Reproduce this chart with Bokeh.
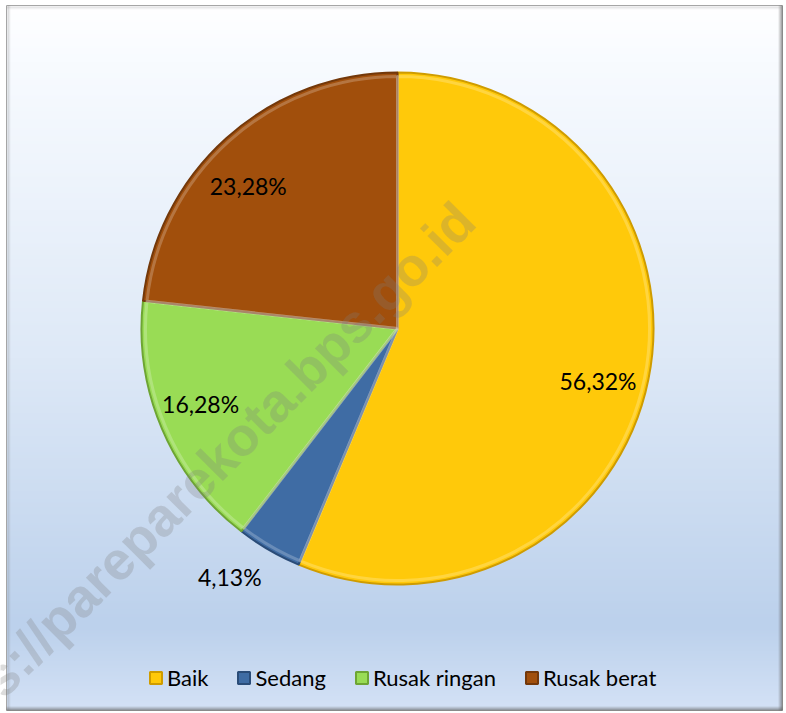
import numpy as np
from bokeh.plotting import figure
from bokeh.models import ColumnDataSource, Legend, LegendItem, Range1d
from bokeh.core.properties import value
from bokeh.embed import file_html
from bokeh.resources import INLINE

# ---- data ----
categories = ["Baik", "Sedang", "Rusak ringan", "Rusak berat"]
shares = [56.32, 4.13, 16.28, 23.28]
label_texts = ["56,32%", "4,13%", "16,28%", "23,28%"]
watermark = "https://pareparekota.bps.go.id"

# ---- style ----
colors = ["#FFC90A", "#3F6CA4", "#99DC55", "#A14F0C"]
edge_colors = ["#CF9C00", "#2A4C78", "#6EA534", "#73380A"]
label_r = [0.81, 1.17, 0.824, 0.805]
label_da = [-3.4, -3.9, -2.1, 4.5]

W, H = 786, 713
CX, CY, R = 397, 385, 256

frac = np.array(shares) / np.sum(shares)
ang = frac * 2 * np.pi
start = np.pi / 2 - np.concatenate([[0.0], np.cumsum(ang)[:-1]])
end = start - ang
mid = (start + end) / 2 + np.radians(label_da)
lx = CX + np.array(label_r) * R * np.cos(mid)
ly = CY + np.array(label_r) * R * np.sin(mid)

src = ColumnDataSource(dict(cat=categories, start=start, end=end,
                            color=colors, edge=edge_colors))
lsrc = ColumnDataSource(dict(x=lx, y=ly, text=label_texts))

p = figure(width=W, height=H, x_range=Range1d(0, W), y_range=Range1d(0, H),
           x_axis_type=None, y_axis_type=None, toolbar_location=None,
           output_backend="svg", min_border=0)
p.grid.visible = False
p.outline_line_color = None
p.background_fill_color = "#ffffff"
p.border_fill_color = "#ffffff"

# background gradient (top white -> light blue), frame area
FX0, FX1, FY0, FY1 = 6, 782, 5, 710   # frame in page px (y from top)
ys = np.linspace(0, 1, FY1 - FY0)  # 0 = top
stops = [0.0, 0.08, 0.5, 0.88, 1.0]
rr = [255, 248, 222, 188, 212]
gg = [255, 251, 233, 209, 226]
bb = [255, 255, 247, 236, 246]
img = np.empty((FY1 - FY0, 1), dtype=np.uint32)
view = img.view(dtype=np.uint8).reshape((FY1 - FY0, 1, 4))
view[:, 0, 0] = np.interp(ys, stops, rr)[::-1]
view[:, 0, 1] = np.interp(ys, stops, gg)[::-1]
view[:, 0, 2] = np.interp(ys, stops, bb)[::-1]
view[:, 0, 3] = 255
p.image_rgba(image=[img], x=FX0, y=H - FY1, dw=FX1 - FX0, dh=FY1 - FY0)

# frame border and shadows
p.quad(left=FX0, right=FX1, bottom=H - FY1, top=H - FY0, fill_alpha=0,
       line_color="#a6a6a6", line_width=1)
for i, a in enumerate([0.75, 0.5, 0.3, 0.15]):
    p.segment(x0=[FX1 - 0.5 - i], y0=[H - FY1], x1=[FX1 - 0.5 - i], y1=[H - FY0],
              line_color="#5f5f5f", line_alpha=a, line_width=1)
    p.segment(x0=[FX0], y0=[H - FY1 + 0.5 + i], x1=[FX1], y1=[H - FY1 + 0.5 + i],
              line_color="#5f5f5f", line_alpha=a, line_width=1)
for i, a in enumerate([0.3, 0.18, 0.08]):
    p.segment(x0=[FX0 + 1.5 + i], y0=[H - FY1], x1=[FX0 + 1.5 + i], y1=[H - FY0],
              line_color="#7a7a7a", line_alpha=a, line_width=1)
    p.segment(x0=[FX0], y0=[H - FY0 - 1.5 - i], x1=[FX1], y1=[H - FY0 - 1.5 - i],
              line_color="#9a9a9a", line_alpha=a, line_width=1)

wr = p.wedge(x=CX, y=CY, radius=R, start_angle="start", end_angle="end",
             direction="clock", fill_color="color", line_color="edge",
             line_width=2, source=src)
# inner bevel highlight
p.wedge(x=CX, y=CY, radius=R - 4, start_angle="start", end_angle="end",
        direction="clock", fill_alpha=0, line_color="white", line_alpha=0.22,
        line_width=3, source=src)

p.text(x="x", y="y", text="text", source=lsrc, text_font=value("Lato"),
       text_font_size="23px", text_align="center", text_baseline="middle",
       text_color="#000000")

# watermark
p.text(x=[465], y=[502], text=[watermark], angle=45, angle_units="deg",
       text_font=value("Liberation Sans"), text_font_style="bold",
       text_font_size="54px", text_align="right", text_baseline="middle",
       text_color="#7f7f7f", text_alpha=0.27)

legend = Legend(items=[LegendItem(label=c, renderers=[wr], index=i)
                       for i, c in enumerate(categories)],
                location=(148, 22), orientation="horizontal",
                background_fill_alpha=0, border_line_alpha=0,
                glyph_width=15, glyph_height=15, label_standoff=4,
                spacing=28, padding=0, margin=0,
                label_text_font="Lato", label_text_font_size="22px",
                label_text_color="#000000")
p.add_layout(legend)

open("out.html", "w").write(file_html(p, INLINE))
